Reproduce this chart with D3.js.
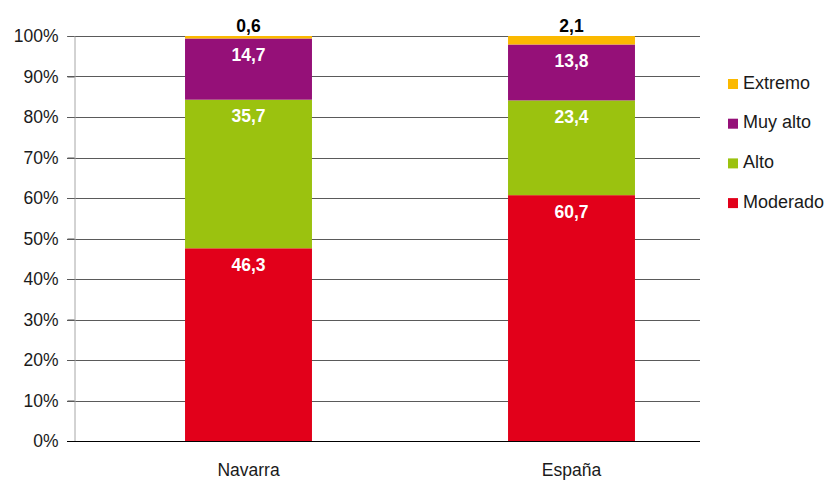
<!DOCTYPE html>
<html>
<head>
<meta charset="utf-8">
<script src="https://cdn.jsdelivr.net/npm/d3@7"></script>
<style>
  body { margin: 0; background: #fff; }
  text { font-family: "Liberation Sans", Arial, sans-serif; }
</style>
</head>
<body>
<svg id="chart"></svg>
<script>
var width = 826;
var height = 481;

var categories = ['Navarra', 'España'];
var seriesNames = ['Moderado', 'Alto', 'Muy alto', 'Extremo'];
var moderado = [46.3, 60.7];
var alto = [35.7, 23.4];
var muyAlto = [14.7, 13.8];
var extremo = [0.6, 2.1];
var yTicks = [0, 10, 20, 30, 40, 50, 60, 70, 80, 90, 100];
var colors = ['#e2001a', '#9bc20f', '#951078', '#fbb900'];

var seriesValues = [moderado, alto, muyAlto, extremo];

var svg = d3.select('#chart').attr('width', width).attr('height', height);

var y = d3.scaleLinear().domain([0, 100]).range([441, 36]);
var x = d3.scaleBand().domain(categories).range([87, 733])
  .paddingInner(0.607).paddingOuter(0.3035);

// 100% stacked: normalise each bar to its total
var rows = categories.map(function(c, i) {
  var row = { cat: c };
  var total = 0;
  seriesNames.forEach(function(s, j) { total += seriesValues[j][i]; });
  seriesNames.forEach(function(s, j) {
    row[s] = seriesValues[j][i] / total * 100;
    row[s + '_raw'] = seriesValues[j][i];
  });
  return row;
});
var stacked = d3.stack().keys(seriesNames)(rows);

// gridlines
svg.append('g').selectAll('line').data(yTicks.slice(1)).enter()
  .append('line')
  .attr('x1', 67).attr('x2', 700)
  .attr('y1', function(d) { return Math.round(y(d)) + 0.5; })
  .attr('y2', function(d) { return Math.round(y(d)) + 0.5; })
  .attr('stroke', '#5a5a5a').attr('stroke-width', 1);

// y axis
var yAxis = svg.append('g').attr('transform', 'translate(74.5,0)')
  .call(d3.axisLeft(y).tickValues(yTicks).tickSize(7).tickPadding(9)
    .tickFormat(function(d) { return d + '%'; }));
yAxis.select('.domain').attr('stroke', '#a6a6a6');
yAxis.selectAll('.tick line').attr('stroke', '#5a5a5a');
yAxis.selectAll('.tick text').attr('font-size', 17.5).attr('fill', '#1a1a1a')
  .attr('font-family', '"Liberation Sans", Arial, sans-serif');

// bars
var layers = svg.append('g').selectAll('g').data(stacked).enter()
  .append('g').attr('fill', function(d, i) { return colors[i]; });

layers.selectAll('rect').data(function(d) { return d; }).enter()
  .append('rect')
  .attr('x', function(d) { return x(d.data.cat); })
  .attr('width', x.bandwidth())
  .attr('y', function(d) { return y(d[1]); })
  .attr('height', function(d) { return y(d[0]) - y(d[1]); });

// x axis baseline
svg.append('line')
  .attr('x1', 67).attr('x2', 700).attr('y1', 441.5).attr('y2', 441.5)
  .attr('stroke', '#000').attr('stroke-width', 1);

// value labels
stacked.forEach(function(layer, j) {
  layer.forEach(function(d) {
    var raw = d.data[seriesNames[j] + '_raw'];
    var label = d3.format('.1f')(raw).replace('.', ',');
    var cx = x(d.data.cat) + x.bandwidth() / 2;
    var top = seriesNames[j] === 'Extremo';
    svg.append('text').attr('x', cx).attr('y', top ? 27 : y(d[1]) + 18)
      .attr('text-anchor', 'middle').attr('dominant-baseline', 'middle')
      .attr('font-size', 17.5).attr('font-weight', 'bold')
      .attr('fill', top ? '#000' : '#fff')
      .text(label);
  });
});

// category labels
svg.selectAll('.cat-label').data(categories).enter()
  .append('text').classed('cat-label', true)
  .attr('x', function(d) { return x(d) + x.bandwidth() / 2; })
  .attr('y', 471)
  .attr('text-anchor', 'middle').attr('dominant-baseline', 'middle')
  .attr('font-size', 17.5).attr('fill', '#1a1a1a')
  .text(function(d) { return d; });

// legend
var legendNames = seriesNames.slice().reverse();
var legendColors = colors.slice().reverse();
var legend = svg.append('g').selectAll('g').data(legendNames).enter()
  .append('g')
  .attr('transform', function(d, i) { return 'translate(728,' + (79 + i * 39.7) + ')'; });
legend.append('rect').attr('width', 10).attr('height', 10)
  .attr('fill', function(d, i) { return legendColors[i]; });
legend.append('text').attr('x', 15).attr('y', 5)
  .attr('dominant-baseline', 'middle').attr('font-size', 18).attr('fill', '#1a1a1a')
  .text(function(d) { return d; });
</script>
</body>
</html>
